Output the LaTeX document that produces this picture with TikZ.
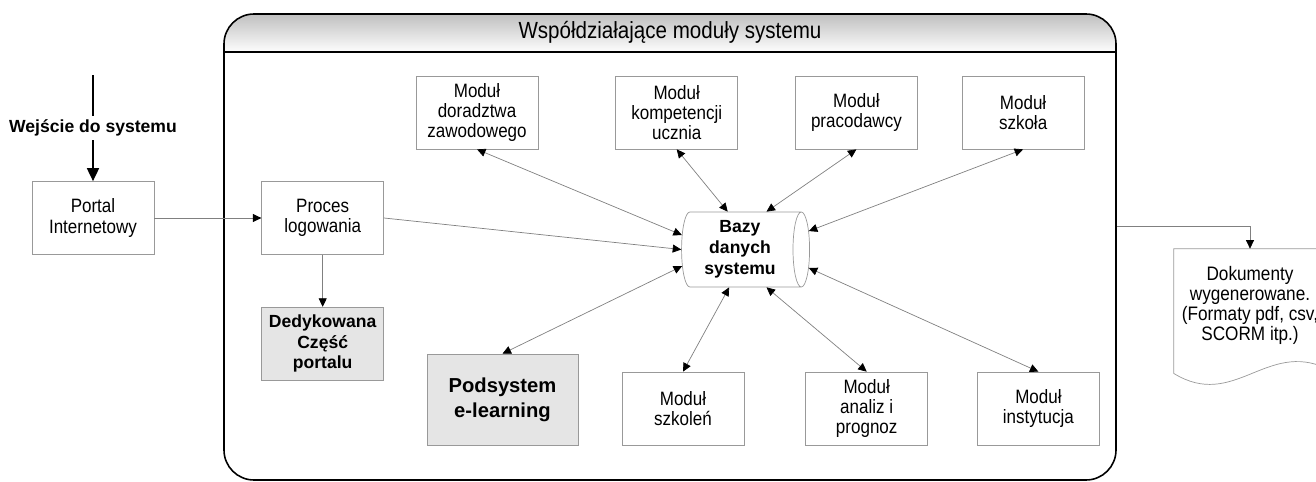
\documentclass[tikz,border=0pt]{standalone}
\usepackage{fontspec}
\setmainfont{Liberation Sans}
\newfontfamily\waski[FakeStretch=0.88]{Liberation Sans}
\usetikzlibrary{arrows.meta, positioning, shapes.geometric}

\begin{document}
\begin{tikzpicture}[
    modul/.style={rectangle, draw=black!40, minimum width=2.44cm, minimum height=1.46cm, align=center, inner sep=1pt, font=\waski\fontsize{11}{11.4}\selectfont},
    szary/.style={modul, fill=black!10, font=\fontsize{10}{11.6}\selectfont\bfseries},
    baza/.style={cylinder, draw=black!40, minimum width=1.5cm, minimum height=2.56cm, aspect=0.27, align=center, inner sep=1pt, font=\fontsize{10}{12}\selectfont\bfseries},
    ramka/.style={rectangle, rounded corners=0.6cm, draw=black, line width=0.9pt, minimum width=17.84cm, minimum height=9.32cm},
    dokument/.style={rectangle, minimum width=3.04cm, minimum height=2.48cm, align=center, text depth=0.3cm, font=\waski\fontsize{11.1}{11.4}\selectfont},
    arrow/.style={-{Triangle[length=0.17cm, width=0.16cm, color=black]}, draw=black!50, line width=0.4pt},
    dwustr/.style={{Triangle[length=0.17cm, width=0.16cm, color=black]}-{Triangle[length=0.17cm, width=0.16cm, color=black]}, draw=black!50, line width=0.4pt},
    wejscie/.style={-{Triangle[length=0.26cm, width=0.24cm]}, line width=1pt}
]
\useasboundingbox (0,0) rectangle (26.32,-9.64);
\clip (0,0) rectangle (26.32,-9.64);

% Ramka z naglowkiem
\begin{scope}
  \clip[rounded corners=0.6cm] (4.48,-9.6) rectangle (22.32,-0.28);
  \shade[top color=black!25, bottom color=white] (4.48,-0.28) rectangle (22.32,-1.06);
\end{scope}
\node[ramka] (ramka) at (13.40,-4.94) {};
\draw[line width=0.9pt] ([yshift=-0.78cm]ramka.north west) -- ([yshift=-0.78cm]ramka.north east);
\node[font=\waski\fontsize{13.3}{14}\selectfont] (tytul) at ([yshift=-0.39cm]ramka.north) {Współdziałające moduły systemu};

% Wejscie
\node[modul] (portal) at (1.86,-4.36) {Portal\\Internetowy};
\node[modul, right=2.14cm of portal] (proces) {Proces\\logowania};
\node[szary, below=1.04cm of proces] (dedyk) {Dedykowana\\Część\\portalu};
\coordinate (start) at (1.86,-1.5);

% Baza danych
\node[baza] (bazy) at (14.80,-4.99) {Bazy\\danych\\systemu};

% Moduly gorne
\node[modul] (dorad) at (9.54,-2.25) {Moduł\\doradztwa\\zawodowego};
\node[modul, right=1.54cm of dorad] (kompet) {Moduł\\kompetencji\\ucznia};
\node[modul, right=1.14cm of kompet] (pracod) {Moduł\\pracodawcy};
\node[modul, right=0.88cm of pracod] (szkola) {Moduł\\szkoła};

% Moduly dolne
\node[szary, minimum width=3.02cm, minimum height=1.82cm, font=\fontsize{11.5}{14.2}\selectfont\bfseries] (elearn) at (10.05,-7.99) {Podsystem\\e-learning};
\node[modul] (szkolen) at (13.66,-8.17) {Moduł\\szkoleń};
\node[modul, right=1.22cm of szkolen] (analiz) {Moduł\\analiz i\\prognoz};
\node[modul, right=0.98cm of analiz] (instyt) {Moduł\\instytucja};

% Dokumenty wyjsciowe
\node[dokument] (dok) at (25.0,-6.22) {Dokumenty\\wygenerowane.\\(Formaty pdf, csv,\\SCORM itp.)};
\draw[draw=black!40] (dok.north west) -- (dok.north east) -- ([yshift=0.1cm]dok.south east)
    .. controls +(-1.2,0.56) and +(1.2,-0.74) .. (dok.south west) -- cycle;

% Polaczenia
\draw[wejscie] (start) -- node[fill=white, inner sep=2pt, font=\fontsize{10}{12}\selectfont\bfseries] {Wejście do systemu} (portal);
\draw[arrow] (portal) -- (proces);
\draw[arrow] (proces) -- (dedyk);
\draw[arrow] (proces.east) -- (bazy.west);
\draw[dwustr] (dorad.south) -- (bazy.166);
\draw[dwustr] (kompet.south) -- (bazy.108);
\draw[dwustr] (pracod.south) -- (bazy.55);
\draw[dwustr] (szkola.south) -- (bazy.15);
\draw[dwustr] (elearn.north) -- (bazy.196);
\draw[dwustr] (szkolen.north) -- (bazy.254);
\draw[dwustr] (analiz.north) -- (bazy.305);
\draw[dwustr] (instyt.north) -- (bazy.345);
\draw[arrow] ([yshift=0.42cm]ramka.east) -| (dok);

\end{tikzpicture}
\end{document}
